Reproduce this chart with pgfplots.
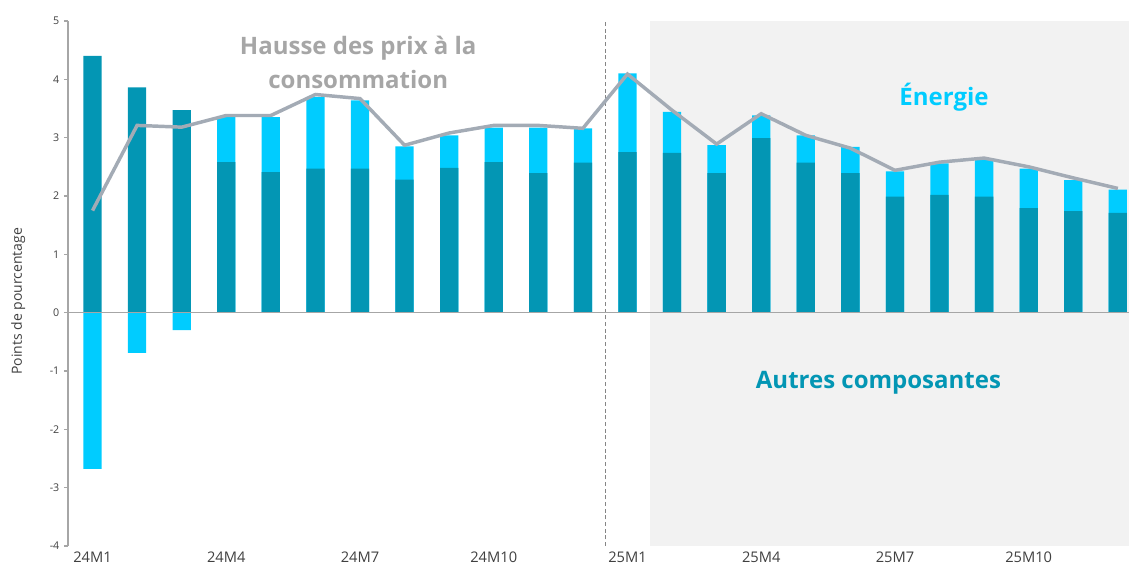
\documentclass[border=0pt]{standalone}
\usepackage{fontspec}
\setmainfont{Open Sans}
\usepackage{pgfplots}
\pgfplotsset{compat=1.18}
\usepackage{pgfplotstable}

\definecolor{autres}{HTML}{0396B4}
\definecolor{energie}{HTML}{00CCFF}
\definecolor{linegray}{HTML}{A3ABB5}
\definecolor{textgray}{HTML}{A6A6A6}
\definecolor{axisgray}{HTML}{A6A6A6}
\definecolor{zonegray}{HTML}{F2F2F2}
\definecolor{labelgray}{HTML}{404040}

% i = month index (0 = 24M1), contributions in percentage points
\pgfplotstableread{
i  autres energie total
0  4.40  -2.68  1.75
1  3.86  -0.69  3.21
2  3.47  -0.30  3.18
3  2.58   0.77  3.38
4  2.41   0.94  3.38
5  2.47   1.23  3.74
6  2.47   1.17  3.67
7  2.28   0.57  2.87
8  2.48   0.56  3.08
9  2.58   0.59  3.21
10 2.39   0.78  3.21
11 2.57   0.59  3.16
12 2.75   1.35  4.09
13 2.74   0.70  3.47
14 2.39   0.48  2.89
15 2.99   0.39  3.41
16 2.57   0.47  3.04
17 2.39   0.45  2.82
18 1.99   0.43  2.44
19 2.02   0.54  2.58
20 1.99   0.63  2.65
21 1.79   0.68  2.50
22 1.74   0.53  2.31
23 1.71   0.40  2.13
}\ipc

\begin{document}
\begin{tikzpicture}
\useasboundingbox (-51pt,-15.75pt) rectangle (795.75pt,409.5pt);
\begin{axis}[
    at={(0,0)}, anchor=south west,
    scale only axis, width=795.75pt, height=393.75pt,
    xmin=-0.55, xmax=23.25, ymin=-4, ymax=5,
    axis y line*=left, axis x line*=bottom,
    x axis line style={draw=none},
    y axis line style={draw=axisgray, line width=0.8pt},
    xtick={0,3,...,21},
    xticklabels={24M1,24M4,24M7,24M10,25M1,25M4,25M7,25M10},
    xtick style={draw=none},
    ytick={-4,...,5},
    yticklabels={-4,-3,-2,-1,0,1,2,3,4,5},
    ytick style={draw=axisgray, line width=0.8pt},
    tick align=outside, major tick length=3pt,
    xticklabel style={font=\fontsize{11}{13}\selectfont, text=labelgray, yshift=2pt},
    yticklabel style={font=\fontsize{8}{10}\selectfont, text=labelgray},
    ylabel={Points de pourcentage},
    ylabel style={font=\fontsize{10.5}{12}\selectfont, text=labelgray,
        at={(axis description cs:-0.047,0.466)}, anchor=center},
    clip=false,
    ]
    % forecast zone
    \fill[zonegray] (axis cs:12.5,-4) rectangle (axis cs:23.25,5);
    \draw[densely dashed, axisgray!80!black, line width=0.7pt] (axis cs:11.5,-4) -- (axis cs:11.5,5);

    \addplot[ybar, bar width=0.41, bar shift=0pt, fill=energie, draw=none]
        table[x=i, y expr={\thisrow{energie}<0 ? \thisrow{energie} : \thisrow{autres}+\thisrow{energie}}] {\ipc};
    \addplot[ybar, bar width=0.41, bar shift=0pt, fill=autres, draw=none]
        table[x=i, y=autres] {\ipc};

    \draw[axisgray, line width=0.8pt] (axis cs:-0.55,0) -- (axis cs:23.25,0);

    \addplot[linegray, line width=2.6pt, mark=none] table[x=i, y=total] {\ipc};

    \node[align=center, font=\bfseries\fontsize{18}{25}\selectfont, text=textgray]
        at (axis cs:5.96,4.29) {Hausse des prix à la\\consommation};
    \node[font=\bfseries\fontsize{18}{22}\selectfont, text=energie]
        at (axis cs:19.10,3.70) {Énergie};
    \node[font=\bfseries\fontsize{18}{22}\selectfont, text=autres]
        at (axis cs:17.63,-1.20) {Autres composantes};
\end{axis}
\end{tikzpicture}
\end{document}
